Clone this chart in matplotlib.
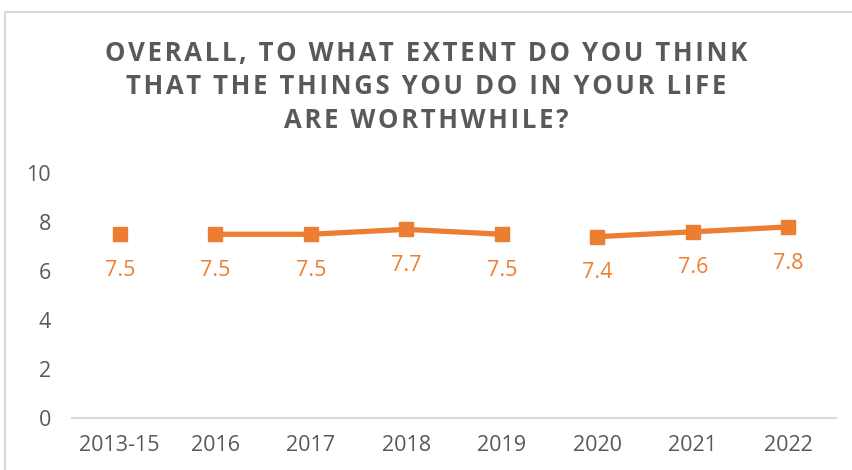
import numpy as np
import matplotlib.pyplot as plt
from matplotlib.patches import Rectangle

years = ["2013-15", "2016", "2017", "2018", "2019", "2020", "2021", "2022"]
scores = [7.5, 7.5, 7.5, 7.7, 7.5, 7.4, 7.6, 7.8]
# runs of years joined by a line (no data link across the gaps)
segments = [[0], [1, 2, 3, 4], [5, 6, 7]]

orange = "#ED7D31"
grey = "#595959"

plt.rcParams["font.family"] = ["Open Sans", "DejaVu Sans"]

fig = plt.figure(figsize=(8.53, 4.70), dpi=100)
W, H = 853, 470

# outer chart frame
fig.patches.append(Rectangle((5 / W, -0.1), 1.2, (H - 12) / H + 0.1,
                             transform=fig.transFigure, fill=False,
                             edgecolor="#d9d9d9", linewidth=1.5))

ax = fig.add_axes([72 / W, (H - 418) / H, (836 - 72) / W, (418 - 173) / H])

x = np.arange(len(years))
for seg in segments:
    ax.plot(x[seg], [scores[i] for i in seg], color=orange, linewidth=3.8,
            marker="s", markersize=10, solid_capstyle="butt")

for xi, v in zip(x, scores):
    ax.annotate(f"{v:.1f}", (xi, v), xytext=(0, -26), textcoords="offset points",
                ha="center", va="center", color=orange, fontsize=15.5)

ax.set_xlim(-0.5, len(years) - 0.5)
ax.set_ylim(0, 10)
ax.set_yticks(range(0, 11, 2))
ax.set_xticks(x)
ax.set_xticklabels(years)
ax.tick_params(axis="both", length=0, labelsize=15.5, labelcolor=grey)
ax.tick_params(axis="y", pad=15)
ax.tick_params(axis="x", pad=12)
for side in ["top", "right", "left"]:
    ax.spines[side].set_visible(False)
ax.spines["bottom"].set_color("#d9d9d9")
ax.spines["bottom"].set_linewidth(1.5)

title_lines = ["OVERALL, TO WHAT EXTENT DO YOU THINK",
               "THAT THE THINGS YOU DO IN YOUR LIFE",
               "ARE WORTHWHILE?"]
for k, line in enumerate(title_lines):
    spaced = "\u200a".join(line)
    fig.text(0.5, 1 - (53 + 34 * k) / H, spaced, ha="center", va="center",
             fontsize=18.5, fontweight="bold", color=grey)

fig.savefig("out.png", dpi=100)
